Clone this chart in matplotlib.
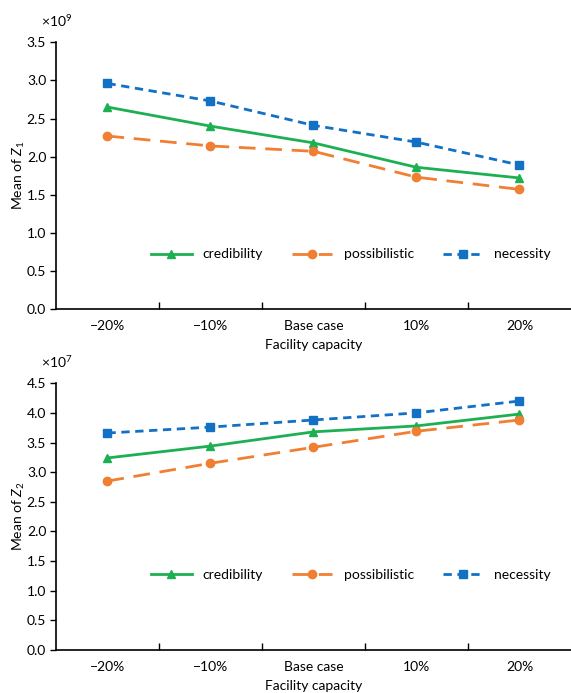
import matplotlib
matplotlib.use("Agg")
import matplotlib.pyplot as plt
from matplotlib.ticker import FixedLocator, NullFormatter

plt.rcParams['font.family'] = ['Lato', 'DejaVu Sans']
plt.rcParams['mathtext.fontset'] = 'custom'
plt.rcParams['mathtext.it'] = 'Lato:italic'
plt.rcParams['mathtext.rm'] = 'Lato'

categories = ["\u221220%", "\u221210%", "Base case", "10%", "20%"]

z1_credibility = [2.65, 2.40, 2.18, 1.86, 1.72]
z1_possibilistic = [2.27, 2.14, 2.07, 1.73, 1.57]
z1_necessity = [2.96, 2.73, 2.41, 2.19, 1.89]

z2_credibility = [3.24, 3.44, 3.68, 3.78, 3.98]
z2_possibilistic = [2.85, 3.15, 3.42, 3.69, 3.88]
z2_necessity = [3.66, 3.76, 3.88, 4.00, 4.20]

green = "#1DB052"
orange = "#F07F33"
blue = "#1271C4"

fig = plt.figure(figsize=(5.71, 6.93), dpi=100)
ax1 = fig.add_axes([0.098, 0.554, 0.902, 0.385])
ax2 = fig.add_axes([0.098, 0.062, 0.902, 0.385])

FS = 10

def draw(ax, cred, poss, nec, ymax, exp, zlabel, legy):
    x = list(range(len(categories)))
    ax.plot(x, cred, color=green, lw=2, ls='-', marker='^', ms=6,
            label='credibility')
    ax.plot(x, poss, color=orange, lw=2, ls=(0, (6, 3.5)), marker='o', ms=6,
            label='possibilistic')
    ax.plot(x, nec, color=blue, lw=2, ls=(0, (3, 2)), marker='s', ms=5.5,
            label='necessity')
    ax.set_xlim(-0.5, 4.5)
    ax.set_ylim(0, ymax)
    yt = [i * 0.5 for i in range(int(ymax / 0.5) + 1)]
    ax.set_yticks(yt)
    ax.set_yticklabels([f"{v:.1f}" for v in yt], fontsize=FS)
    ax.set_xticks(x)
    ax.set_xticklabels(categories, fontsize=FS)
    ax.tick_params(axis='x', which='major', length=0, pad=8)
    ax.xaxis.set_minor_locator(FixedLocator([0.5, 1.5, 2.5, 3.5]))
    ax.xaxis.set_minor_formatter(NullFormatter())
    ax.tick_params(axis='x', which='minor', direction='in', length=5, width=1)
    ax.tick_params(axis='y', direction='out', length=4, width=1, pad=3)
    for s in ['top', 'right']:
        ax.spines[s].set_visible(False)
    for s in ['left', 'bottom']:
        ax.spines[s].set_linewidth(1.2)
    ax.set_xlabel("Facility capacity", fontsize=FS, labelpad=5)
    ax.set_ylabel(zlabel, fontsize=FS, labelpad=0)
    ax.text(-0.03, 1.05, r"$\times10^{%d}$" % exp, transform=ax.transAxes,
            fontsize=FS, ha='left', va='bottom')
    ax.legend(loc='center', bbox_to_anchor=(0.573, legy), ncol=3, frameon=False,
              fontsize=FS, handlelength=2.9, columnspacing=2.1,
              handletextpad=0.8)

draw(ax1, z1_credibility, z1_possibilistic, z1_necessity, 3.5, 9, r"Mean of $Z_1$", 0.205)
draw(ax2, z2_credibility, z2_possibilistic, z2_necessity, 4.5, 7, r"Mean of $Z_2$", 0.28)

fig.savefig("out.png", dpi=100)
